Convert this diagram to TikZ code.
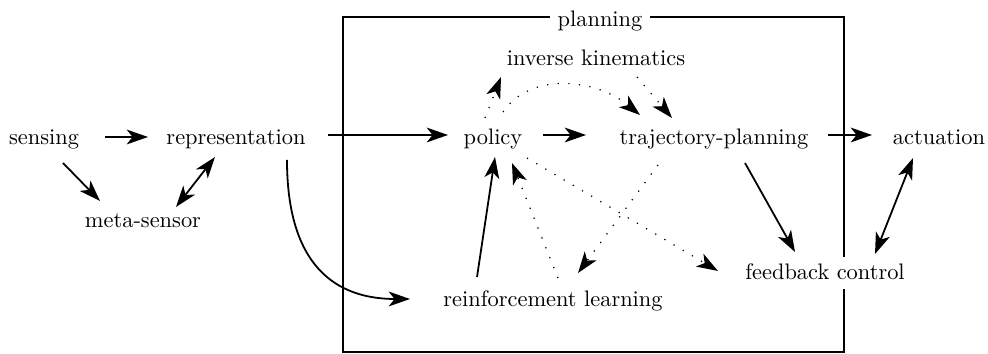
\documentclass[tikz,border=0pt]{standalone}
\usetikzlibrary{arrows.meta}
\begin{document}
\begin{tikzpicture}[x=0.4464pt,y=-0.4464pt,
  lbl/.style={inner sep=3.3pt,text height=1.5ex,text depth=.25ex},
  tipS/.tip={Stealth[length=9.5pt,width=6.6pt,inset=2.6pt]},
  solidarrow/.style={line width=0.8pt,-tipS},
  bothway/.style={line width=0.8pt,tipS-tipS},
  dotarrow/.style={line width=0.55pt,dash pattern=on 0.55pt off 4.2pt,-tipS},
  boxline/.style={line width=0.85pt}]
\useasboundingbox (0,0) rectangle (988,354);
% planning frame
\draw[boxline] (343,17) rectangle (844,352);
\node[lbl,fill=white] (planning) at (600,20) {planning};
% nodes
\node[lbl] (sensing) at (44,138) {sensing};
\node[lbl] (representation) at (236,138) {representation};
\node[lbl] (meta) at (143,221) {meta-sensor};
\node[lbl] (policy) at (493,138) {policy};
\node[lbl] (traj) at (714,138) {trajectory-planning};
\node[lbl] (actuation) at (939,138) {actuation};
\node[lbl] (ik) at (596,59) {inverse kinematics};
\node[lbl] (rl) at (553,300) {reinforcement learning};
\node[lbl,fill=white] (fc) at (825,273) {feedback control};
% solid connectors
\draw[solidarrow] ([shift={(61,-1)}]sensing.center) -- ([shift={(-88,-1)}]representation.center);
\draw[solidarrow] ([shift={(19,25)}]sensing.center) -- ([shift={(-43,-20)}]meta.center);
\draw[bothway] ([shift={(-21,19)}]representation.center) -- ([shift={(33,-14)}]meta.center);
\draw[solidarrow] ([shift={(92,-3)}]representation.center) -- ([shift={(-45,-3)}]policy.center);
\draw[solidarrow] ([shift={(51,22)}]representation.center) .. controls +(0,105) and +(-75,0) .. ([shift={(-143,-1)}]rl.center);
\draw[solidarrow] ([shift={(-76,-23)}]rl.center) -- ([shift={(2,19)}]policy.center);
\draw[solidarrow] ([shift={(50,-3)}]policy.center) -- ([shift={(-128,-3)}]traj.center);
\draw[solidarrow] ([shift={(114,-3)}]traj.center) -- ([shift={(-67,-3)}]actuation.center);
\draw[solidarrow] ([shift={(31,25)}]traj.center) -- ([shift={(-30,-21)}]fc.center);
\draw[bothway] ([shift={(-26,20)}]actuation.center) -- ([shift={(50,-19)}]fc.center);
% dotted connectors
\draw[dotarrow] ([shift={(-8,-20)}]policy.center) -- ([shift={(-95,18)}]ik.center);
\draw[dotarrow] ([shift={(10,-26)}]policy.center) .. controls +(27,-40) and +(-45,-37) .. ([shift={(-74,-23)}]traj.center);
\draw[dotarrow] ([shift={(41,18)}]ik.center) -- ([shift={(-42,-20)}]traj.center);
\draw[dotarrow] ([shift={(34,20)}]policy.center) -- ([shift={(-107,-2)}]fc.center);
\draw[dotarrow] ([shift={(-56,27)}]traj.center) -- ([shift={(25,-27)}]rl.center);
\draw[dotarrow] ([shift={(5,-22)}]rl.center) -- ([shift={(19,25)}]policy.center);
\end{tikzpicture}
\end{document}
